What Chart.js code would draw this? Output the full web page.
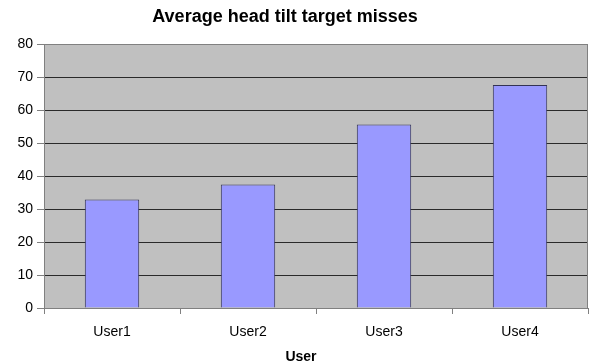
<!DOCTYPE html>
<html>
<head>
<meta charset="utf-8">
<script src="https://cdn.jsdelivr.net/npm/chart.js@4/dist/chart.umd.min.js"></script>
<style>
  body { margin: 0; background: #ffffff; }
  canvas { display: block; }
</style>
</head>
<body>
<canvas id="chart" width="591" height="364"></canvas>
<script>
const categories = ["User1", "User2", "User3", "User4"];
const misses = [32.9, 37.4, 55.6, 67.6];
const yTicks = [0, 10, 20, 30, 40, 50, 60, 70, 80];
const chartTitle = "Average head tilt target misses";
const xTitle = "User";

const FONT = "'Liberation Sans', Arial, sans-serif";

// gray plot area, border and the two titles (Excel puts them off-centre)
const excelLook = {
  id: "excelLook",
  beforeDraw(chart) {
    const { ctx, chartArea: a } = chart;
    ctx.save();
    ctx.fillStyle = "#c0c0c0";
    ctx.fillRect(a.left, a.top, a.right - a.left, a.bottom - a.top);
    ctx.restore();
  },
  beforeDatasetsDraw(chart) {
    const { ctx, chartArea: a } = chart;
    ctx.save();
    ctx.strokeStyle = "#808080";
    ctx.lineWidth = 1;
    ctx.strokeRect(a.left + 0.5, a.top + 0.5, a.right - a.left - 1, a.bottom - a.top);
    ctx.restore();
  },
  afterDraw(chart) {
    const { ctx } = chart;
    ctx.save();
    ctx.fillStyle = "#000";
    ctx.textAlign = "center";
    ctx.textBaseline = "alphabetic";
    ctx.font = "bold 18px " + FONT;
    ctx.fillText(chartTitle, 285, 22);
    ctx.font = "bold 14px " + FONT;
    ctx.fillText(xTitle, 301, 361);
    ctx.restore();
  },
};

new Chart(document.getElementById("chart").getContext("2d"), {
  type: "bar",
  data: {
    labels: categories,
    datasets: [
      {
        label: "Misses",
        data: misses,
        backgroundColor: "#9999ff",
        borderColor: "#333355",
        borderWidth: 1,
        borderSkipped: "bottom",
        categoryPercentage: 1,
        barPercentage: 0.4,
      },
    ],
  },
  options: {
    responsive: false,
    animation: false,
    layout: { padding: { top: 44, right: 3, left: 0, bottom: 0 } },
    plugins: {
      legend: { display: false },
      tooltip: { enabled: false },
      title: { display: false },
    },
    scales: {
      x: {
        afterFit: (scale) => { scale.height = 56; },
        border: { display: false },
        grid: {
          offset: true,
          drawOnChartArea: false,
          drawTicks: true,
          tickLength: 6,
          tickColor: "#808080",
        },
        ticks: {
          color: "#000",
          font: { family: FONT, size: 14 },
          padding: 10,
          maxRotation: 0,
        },
      },
      y: {
        min: 0,
        max: 80,
        afterFit: (scale) => { scale.width = 44; },
        afterBuildTicks: (scale) => {
          scale.ticks = yTicks.map((v) => ({ value: v }));
        },
        border: { display: false },
        grid: {
          color: (c) => (c.tick && (c.tick.value === 0 || c.tick.value === 80) ? "#808080" : "#2a2a2a"),
          tickColor: "#808080",
          tickLength: 7,
          lineWidth: 1,
        },
        ticks: {
          color: "#000",
          font: { family: FONT, size: 14 },
          padding: 4,
        },
      },
    },
  },
  plugins: [excelLook],
});
</script>
</body>
</html>
